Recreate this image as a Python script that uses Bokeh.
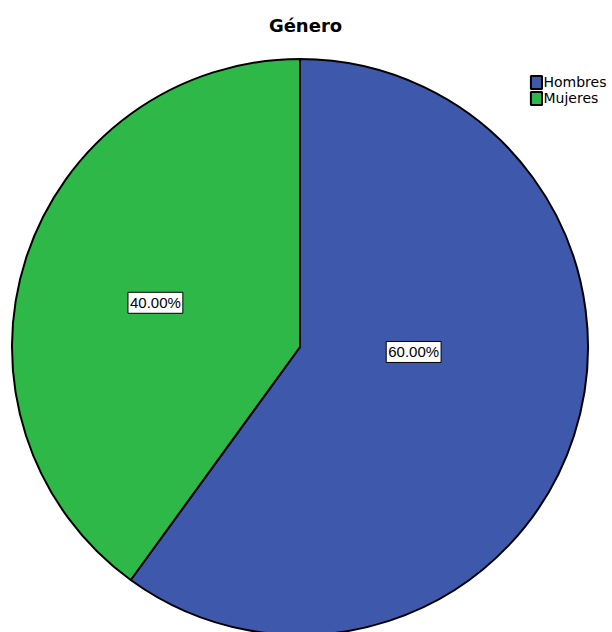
import math
from bokeh.plotting import figure
from bokeh.models import Range1d, Label, Legend, LegendItem
from bokeh.embed import file_html
from bokeh.resources import INLINE

# ---- data ----
categories = ["Hombres", "Mujeres"]
percentages = [60.0, 40.0]
colors = ["#3E58AC", "#2EB848"]
title_text = "Género"

# ---- layout constants ----
W, H = 612, 632
CX, CY_SCREEN, R = 299.5, 346.5, 288.0
CY = H - CY_SCREEN
# label placement (angle in degrees, fraction of radius), SPSS-like
label_place = {"Hombres": (-2.5, 0.395), "Mujeres": (163.0, 0.525)}

p = figure(width=W, height=H, x_range=Range1d(0, W), y_range=Range1d(0, H),
           min_border=0, toolbar_location=None, output_backend="svg")
p.axis.visible = False
p.grid.visible = False
p.outline_line_color = None
p.background_fill_color = "white"

# wedges: first slice runs clockwise from 12 o'clock, the rest continue CCW from 12
total = sum(percentages)
starts, ends = [], []
starts.append(math.pi / 2 - 2 * math.pi * percentages[0] / total)
ends.append(math.pi / 2)
cur = math.pi / 2
for v in percentages[1:]:
    nxt = cur + 2 * math.pi * v / total
    starts.append(cur); ends.append(nxt)
    cur = nxt

renderers = []
for i in range(len(categories)):
    r = p.wedge(x=CX, y=CY, radius=R, start_angle=starts[i], end_angle=ends[i],
                fill_color=colors[i], line_color="black", line_width=2)
    renderers.append(r)

# value labels
for cat, pct in zip(categories, percentages):
    ang, frac = label_place[cat]
    lx = CX + R * frac * math.cos(math.radians(ang))
    ly = CY + R * frac * math.sin(math.radians(ang))
    p.add_layout(Label(x=lx, y=ly, text=f"{pct:.2f}%", text_align="center",
                       text_baseline="middle", text_font="Liberation Sans",
                       text_font_size="15px", text_color="black",
                       background_fill_color="white", border_line_color="black",
                       border_line_width=1, padding=2))

# title
p.add_layout(Label(x=W / 2 - 1, y=H - 25, text=title_text, text_align="center",
                   text_baseline="middle", text_font="DejaVu Sans",
                   text_font_style="bold", text_font_size="18px", text_color="black"))

# legend
legend = Legend(items=[LegendItem(label=c, renderers=[r]) for c, r in zip(categories, renderers)],
                location=(528.5, H - 106), orientation="vertical",
                glyph_width=14, glyph_height=16, label_height=16, label_width=10,
                spacing=0, padding=0, margin=0, label_standoff=1,
                label_text_font="DejaVu Sans", label_text_font_size="14px",
                label_text_color="black",
                border_line_color=None, background_fill_alpha=0)
p.add_layout(legend, "center")

open("out.html", "w").write(file_html(p, INLINE))
